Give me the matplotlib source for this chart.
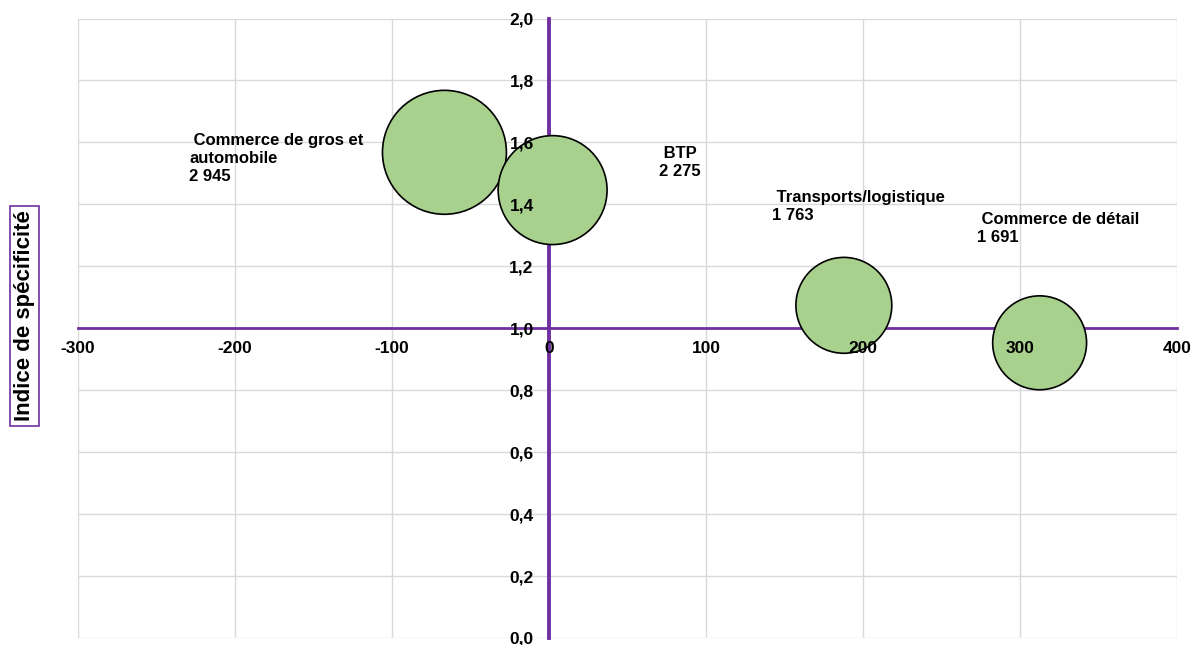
import matplotlib
matplotlib.use("Agg")
import matplotlib.pyplot as plt
from matplotlib.ticker import FuncFormatter, MultipleLocator

plt.rcParams["font.family"] = ["Liberation Sans", "DejaVu Sans"]
plt.rcParams["axes.unicode_minus"] = False

# data
sectors = ["Commerce de gros et\nautomobile", "BTP", "Transports/logistique", "Commerce de détail"]
x_values = [-66.6, 2.3, 187.8, 312.5]
y_values = [1.568, 1.446, 1.074, 0.953]
workforce = [2945, 2275, 1763, 1691]
workforce_labels = ["2 945", "2 275", "1 763", "1 691"]

# label offsets from bubble centre, in pixels
label_offsets = [(-255, -6), (106, 28), (-72, 99), (-63, 114)]

purple = "#7030A0"
green = "#A9D18E"
grid_col = "#D9D9D9"

fig = plt.figure(figsize=(11.94, 6.45), dpi=100)
pos = [78 / 1194, 1 - 638 / 645, 1099 / 1194, 619.5 / 645]
ax = fig.add_axes(pos)

ax.set_xlim(-300, 400)
ax.set_ylim(0, 2.0)
ax.xaxis.set_major_locator(MultipleLocator(100))
ax.yaxis.set_major_locator(MultipleLocator(0.2))
ax.set_axisbelow(True)
ax.grid(True, color=grid_col, linewidth=1.0)
for gl in ax.get_xgridlines() + ax.get_ygridlines():
    gl.set_clip_on(False)
ax.tick_params(length=0, labelbottom=False, labelleft=False)

for side in ["top", "right"]:
    ax.spines[side].set_visible(False)
ax.spines["left"].set_position(("data", 0))
ax.spines["bottom"].set_position(("data", 1.0))
ax.spines["left"].set_color(purple)
ax.spines["bottom"].set_color(purple)
ax.spines["left"].set_linewidth(2.8)
ax.spines["bottom"].set_linewidth(2.0)

sizes = [2.704 * v for v in workforce]
ax.scatter(x_values, y_values, s=sizes, color=green, edgecolor="black",
           linewidth=1.2, zorder=3, clip_on=False)

for name, lab, x, y, off in zip(sectors, workforce_labels, x_values, y_values, label_offsets):
    ax.annotate(" " + name + "\n" + lab, (x, y), xytext=off, textcoords="offset pixels",
                ha="left", va="center", multialignment="left", fontsize=12,
                fontweight="bold", linespacing=1.25, zorder=5)

# overlay axes so the tick labels sit above the bubbles
ax2 = fig.add_axes(pos, sharex=ax, sharey=ax)
ax2.patch.set_visible(False)
for side in ax2.spines:
    ax2.spines[side].set_visible(False)
ax2.spines["left"].set_position(("data", 0))
ax2.spines["bottom"].set_position(("data", 1.0))
ax2.tick_params(axis="x", length=0, pad=9, labelsize=12.5)
ax2.tick_params(axis="y", length=0, pad=11, labelsize=12.5)
ax2.xaxis.set_major_formatter(FuncFormatter(lambda v, p: f"{v:.0f}"))
ax2.yaxis.set_major_formatter(FuncFormatter(lambda v, p: f"{v:.1f}".replace(".", ",")))
for t in ax2.get_xticklabels() + ax2.get_yticklabels():
    t.set_fontweight("bold")

fig.text(24.5 / 1194, 1 - 315.8 / 645, "Indice de spécificité", rotation=90,
         ha="center", va="center", fontsize=16, fontweight="bold",
         bbox=dict(boxstyle="square,pad=0.2", facecolor="white", edgecolor=purple, linewidth=1.2))

fig.savefig("out.png", dpi=100)
